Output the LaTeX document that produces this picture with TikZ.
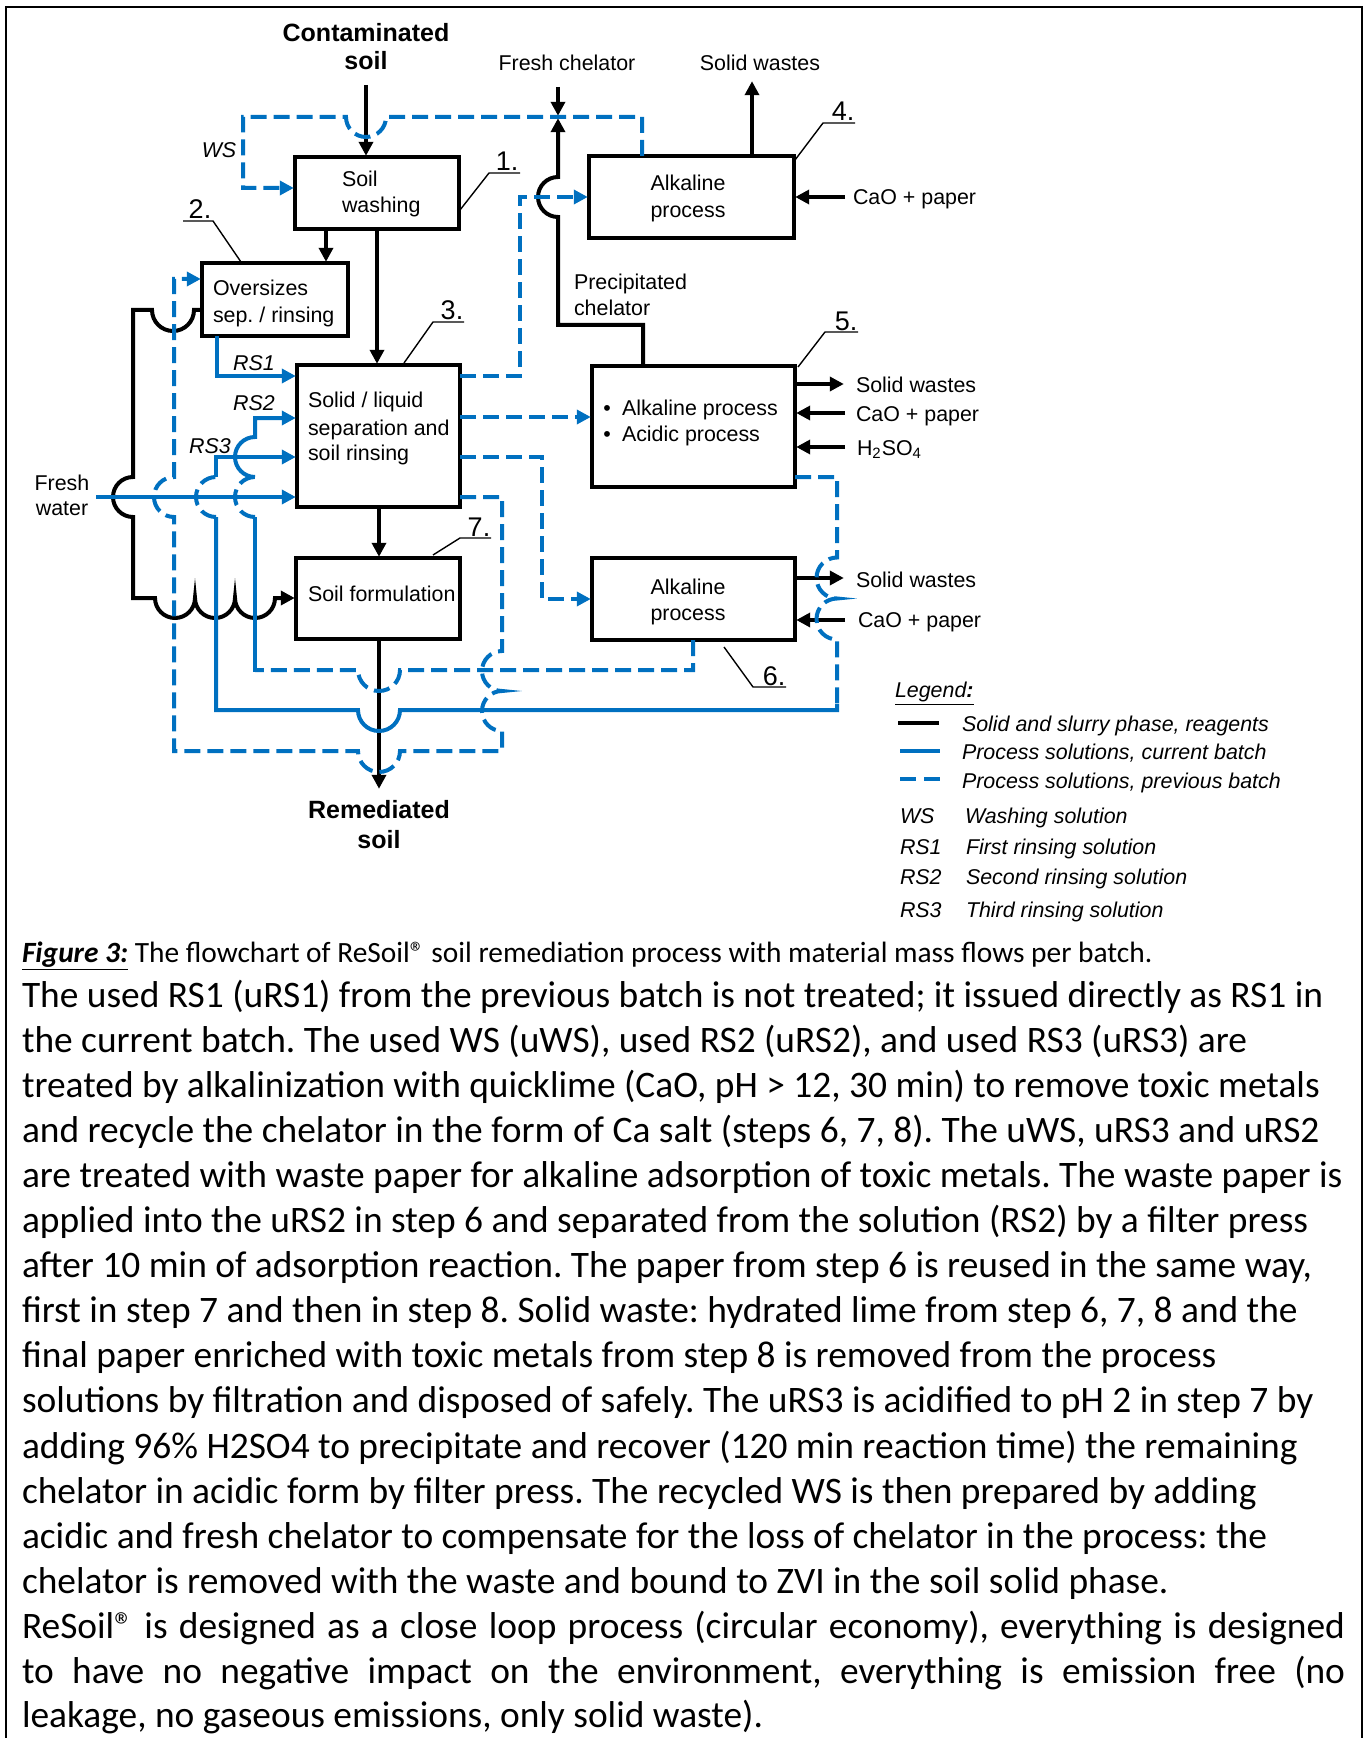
\documentclass[tikz,border=0pt]{standalone}
\usepackage{fontspec}
\setmainfont{Liberation Sans}
\newfontfamily\bodyfont{Carlito}
\usetikzlibrary{arrows.meta}
\definecolor{flowblue}{HTML}{0070C0}
\begin{document}
\frenchspacing
\begin{tikzpicture}[x=0.5pt, y=-0.5pt,
  every node/.style={inner sep=0pt, outer sep=0pt},
  font=\fontsize{10.7}{12.8}\selectfont,
  stepbox/.style={draw=black, line width=2.3pt, rectangle},
  blk/.style={draw=black, line width=2pt},
  cur/.style={draw=flowblue, line width=2pt},
  prev/.style={draw=flowblue, line width=2pt, dash pattern=on 8pt off 3.5pt},
  arr/.style={-{Triangle[length=7pt,width=7pt]}, shorten >=0.6pt},
  leader/.style={draw=black, line width=0.7pt},
  txt/.style={anchor=base west},
  ctxt/.style={anchor=base},
  bigbold/.style={anchor=base, font=\bfseries\fontsize{12.5}{15}\selectfont},
  stepno/.style={anchor=base, font=\fontsize{13.5}{16}\selectfont},
  legtxt/.style={anchor=base west, font=\itshape\fontsize{10.7}{12.8}\selectfont},
  body/.style={anchor=base west, font=\bodyfont\fontsize{18.7}{22.5}\selectfont},
]
\useasboundingbox (0,0) rectangle (1367,1738);

% page frame (open at the bottom)
\draw[line width=1.2pt] (6,1760) -- (6,7) -- (1362,7) -- (1362,1760);

% ---------------- process steps ----------------
\node[stepbox, minimum width=82pt,   minimum height=36pt]   (b1) at (377,193)   {};
\node[stepbox, minimum width=73pt,   minimum height=36.5pt] (b2) at (275,299.5) {};
\node[stepbox, minimum width=81.5pt, minimum height=71pt]   (b3) at (378.5,436) {};
\node[stepbox, minimum width=102.5pt,minimum height=41pt]   (b4) at (691.5,197) {};
\node[stepbox, minimum width=101.5pt,minimum height=60.5pt] (b5) at (693.5,426.5) {};
\node[stepbox, minimum width=101.5pt,minimum height=41pt]   (b6) at (693.5,599) {};
\node[stepbox, minimum width=82pt,   minimum height=40.5pt] (b7) at (378,598.5) {};

% texts inside the boxes
\node[txt] (t1a) at (342,187) {Soil};
\node[txt] (t1b) at (342,213) {washing};
\node[txt] (t2a) at (213,296) {Oversizes};
\node[txt] (t2b) at (213,322) {sep. / rinsing};
\node[txt] (t3a) at (308,408) {Solid / liquid};
\node[txt] (t3b) at (308,435) {separation and};
\node[txt] (t3c) at (308,460) {soil rinsing};
\node[ctxt] (t4a) at (688,191) {Alkaline};
\node[ctxt] (t4b) at (688,218) {process};
\node[ctxt] (t5d1) at (607,415) {•};
\node[txt]  (t5a) at (622,415) {Alkaline process};
\node[ctxt] (t5d2) at (607,441) {•};
\node[txt]  (t5b) at (622,441) {Acidic process};
\node[ctxt] (t6a) at (688,594) {Alkaline};
\node[ctxt] (t6b) at (688,620) {process};
\node[txt] (t7a) at (308,601) {Soil formulation};

% step numbers with underline and leader
\node[stepno] (n1) at (507,171) {1.};
\coordinate (n1l) at (489,173);
\draw[leader] (520,173) -- (n1l) -- (460,210);
\node[stepno] (n2) at (200,219) {2.};
\coordinate (n2l) at (213,221);
\draw[leader] (183,221) -- (n2l) -- (241,262);
\node[stepno] (n3) at (452,320) {3.};
\coordinate (n3l) at (433,322);
\draw[leader] (464,322) -- (n3l) -- (404,363);
\node[stepno] (n4) at (843,121) {4.};
\coordinate (n4l) at (823,123);
\draw[leader] (855,123) -- (n4l) -- (795,160);
\node[stepno] (n5) at (846,330) {5.};
\coordinate (n5l) at (825,332);
\draw[leader] (858,332) -- (n5l) -- (798,367);
\node[stepno] (n6) at (774,685) {6.};
\coordinate (n6l) at (753,687);
\draw[leader] (786,687) -- (n6l) -- (724,647);
\node[stepno] (n7) at (479,536) {7.};
\coordinate (n7l) at (460,538);
\draw[leader] (491,538) -- (n7l) -- (433,555);

% ---------------- outer labels ----------------
\node[bigbold] (contam)  at (366,42) {Contaminated};
\node[bigbold] (contamB) at (366,70) {soil};
\node[bigbold] (remed)   at (379,818) {Remediated};
\node[bigbold] (remedB)  at (379,848) {soil};
\node[ctxt] (fchel) at (567,71) {Fresh chelator};
\node[ctxt] (sw4t) at (760,71) {Solid wastes};
\node[txt] (cao4t) at (853,205) {CaO + paper};
\node[txt] (precA) at (574,290) {Precipitated};
\node[txt] (precB) at (574,316) {chelator};
\node[txt] (sw5t) at (856,392) {Solid wastes};
\node[txt] (cao5t) at (856,421) {CaO + paper};
\node[txt] (h2t) at (857,455) {H\textsubscript{2}SO\textsubscript{4}};
\node[txt] (sw6t) at (856,587) {Solid wastes};
\node[txt] (cao6t) at (858,627) {CaO + paper};
\node[ctxt] (fwA) at (62,490) {Fresh};
\node[ctxt] (fwB) at (62,515) {water};
\node[ctxt, font=\itshape\fontsize{10.7}{12.8}\selectfont] (lws) at (219,158) {WS};
\node[ctxt, font=\itshape\fontsize{10.7}{12.8}\selectfont] (lrs1) at (254,371) {RS1};
\node[ctxt, font=\itshape\fontsize{10.7}{12.8}\selectfont] (lrs2) at (254,410) {RS2};
\node[ctxt, font=\itshape\fontsize{10.7}{12.8}\selectfont] (lrs3) at (210,453) {RS3};

% free ends of the reagent and product arrows
\coordinate (csIn) at (366,85);
\coordinate (fcIn) at (558,87);
\coordinate (mix)  at (558,117);
\coordinate (sw4)  at (752,80);
\coordinate (cao4) at (845,197);
\coordinate (sw5)  at (845,384);
\coordinate (cao5) at (845,413);
\coordinate (h2so) at (845,447);
\coordinate (sw6)  at (845,578);
\coordinate (cao6) at (845,620);
\coordinate (fw)   at (96,497);
\coordinate (rem)  at (379,790);

% ---------------- solid and slurry phase, reagents ----------------
\draw[blk,arr] (csIn) -- (csIn |- b1.north);
\draw[blk,arr] (326,0 |- b1.south) -- (326,0 |- b2.north);
\draw[blk,arr] (377,0 |- b1.south) -- (377,0 |- b3.north);
\draw[blk,arr] (379,0 |- b3.south) -- (379,0 |- b7.north);
\draw[blk,arr] (379,0 |- b7.south) -- (rem);
\draw[blk,arr] (fcIn) -- (mix);
\draw[blk,arr] (643,0 |- b5.north) -- (643,325) -- (558,325) -- (558,217)
  arc[start angle=270, end angle=90, radius=10pt] -- (mix);
\draw[blk,arr] (752,0 |- b4.north) -- (sw4);
\draw[blk,arr] (cao4) -- (b4.east |- cao4);
\draw[blk,arr] (b5.east |- sw5) -- (sw5);
\draw[blk,arr] (cao5) -- (b5.east |- cao5);
\draw[blk,arr] (h2so) -- (b5.east |- h2so);
\draw[blk,arr] (b6.east |- sw6) -- (sw6);
\draw[blk,arr] (cao6) -- (b6.east |- cao6);
% oversizes to soil formulation
\draw[blk,arr] (b2.west |- 0,310) -- (194,310)
  arc[start angle=0, end angle=-180, radius=10.5pt] -- (133,310) -- (133,477)
  arc[start angle=90, end angle=270, radius=10pt] -- (133,598) -- (155,598)
  arc[start angle=180, end angle=360, radius=10pt]
  arc[start angle=180, end angle=360, radius=10pt]
  arc[start angle=180, end angle=360, radius=10pt] -- (b7.west |- 0,598);

% ---------------- process solutions, current batch ----------------
\draw[cur,arr] (fw) -- (b3.west |- fw);
\draw[cur,arr] (217,0 |- b2.south) -- (217,376) -- (b3.west |- 0,376);
% RS2
\draw[cur] (259,670) -- (255,670) -- (255,517);
\draw[prev] (255,517) arc[start angle=270, end angle=90, radius=10pt];
\draw[cur,arr] (255,477) arc[start angle=270, end angle=90, radius=10pt]
  -- (255,418) -- (b3.west |- 0,418);
% RS3
\draw[cur] (837,704) -- (837,710) -- (400,710)
  arc[start angle=0, end angle=-180, radius=10.5pt] -- (216,710) -- (216,517);
\draw[prev] (216,517) arc[start angle=270, end angle=90, radius=10pt];
\draw[cur,arr] (216,477) -- (216,457) -- (b3.west |- 0,457);

% ---------------- process solutions, previous batch ----------------
\draw[prev,arr] (642,0 |- b4.north) -- (642,117) -- (386,117)
  arc[start angle=0, end angle=-180, radius=10pt] -- (243,117) -- (243,188)
  -- (b1.west |- 0,188);
\draw[prev,arr] (b3.east |- 0,376) -- (520,376) -- (520,197) -- (b4.west |- 0,197);
\draw[prev,arr] (b3.east |- 0,417) -- (b5.west |- 0,417);
\draw[prev,arr] (b3.east |- 0,457) -- (542,457) -- (542,599) -- (b6.west |- 0,599);
\draw[prev,arr] (b3.east |- 0,497) -- (502,497) -- (502,651)
  arc[start angle=90, end angle=270, radius=10pt]
  arc[start angle=90, end angle=270, radius=10pt] -- (502,751) -- (400,751)
  arc[start angle=0, end angle=-180, radius=10.5pt] -- (174,751) -- (174,517)
  arc[start angle=270, end angle=90, radius=10pt] -- (174,279) -- (b2.west |- 0,279);
\draw[prev] (693,0 |- b6.south) -- (693,670) -- (400,670)
  arc[start angle=0, end angle=-180, radius=10.5pt] -- (255,670);
\draw[prev] (b5.east |- 0,477) -- (837,477) -- (837,557.5)
  arc[start angle=90, end angle=270, radius=10.25pt]
  arc[start angle=90, end angle=270, radius=10.25pt] -- (837,710);

% ---------------- legend ----------------
\node[legtxt] (leg) at (895,697) {\underline{Legend\textbf{:}}};
\draw[blk] (898,723) -- (939,723);
\draw[cur] (900,751) -- (940,751);
\draw[prev, dash pattern=on 8pt off 4pt] (900,779) -- (940,779);
\node[legtxt] (lg1) at (962,731) {Solid and slurry phase, reagents};
\node[legtxt] (lg2) at (962,759) {Process solutions, current batch};
\node[legtxt] (lg3) at (962,788) {Process solutions, previous batch};
\node[legtxt] (lga) at (900,823) {WS};
\node[legtxt] (lgaa) at (965,823) {Washing solution};
\node[legtxt] (lgb) at (900,854) {RS1};
\node[legtxt] (lgbb) at (966,854) {First rinsing solution};
\node[legtxt] (lgc) at (900,884) {RS2};
\node[legtxt] (lgcc) at (966,884) {Second rinsing solution};
\node[legtxt] (lgd) at (900,917) {RS3};
\node[legtxt] (lgdd) at (966,917) {Third rinsing solution};

% ---------------- caption and description ----------------
\node[anchor=base west, font=\bodyfont\fontsize{14.7}{17}\selectfont] (cap) at (22,962)
  {\textbf{\textit{\underline{Figure 3:}}} The flowchart of ReSoil® soil remediation process with material mass flows per batch.};
\node[body] (p1)  at (22,1007) {The used RS1 (uRS1) from the previous batch is not treated; it issued directly as RS1 in};
\node[body] (p2)  at (22,1052.1) {the current batch. The used WS (uWS), used RS2 (uRS2), and used RS3 (uRS3) are};
\node[body] (p3)  at (22,1097.2) {treated by alkalinization with quicklime (CaO, pH > 12, 30 min) to remove toxic metals};
\node[body] (p4)  at (22,1142.3) {and recycle the chelator in the form of Ca salt (steps 6, 7, 8). The uWS, uRS3 and uRS2};
\node[body] (p5)  at (22,1187.4) {are treated with waste paper for alkaline adsorption of toxic metals. The waste paper is};
\node[body] (p6)  at (22,1232.5) {applied into the uRS2 in step 6 and separated from the solution (RS2) by a filter press};
\node[body] (p7)  at (22,1277.6) {after 10 min of adsorption reaction. The paper from step 6 is reused in the same way,};
\node[body] (p8)  at (22,1322.7) {first in step 7 and then in step 8. Solid waste: hydrated lime from step 6, 7, 8 and the};
\node[body] (p9)  at (22,1367.8) {final paper enriched with toxic metals from step 8 is removed from the process};
\node[body] (p10) at (22,1412.9) {solutions by filtration and disposed of safely. The uRS3 is acidified to pH 2 in step 7 by};
\node[body] (p11) at (22,1458) {adding 96\% H2SO4 to precipitate and recover (120 min reaction time) the remaining};
\node[body] (p12) at (22,1503.1) {chelator in acidic form by filter press. The recycled WS is then prepared by adding};
\node[body] (p13) at (22,1548.2) {acidic and fresh chelator to compensate for the loss of chelator in the process: the};
\node[body] (p14) at (22,1593.3) {chelator is removed with the waste and bound to ZVI in the soil solid phase.};
\node[body] (p15) at (22,1638.4) {\makebox[661.5pt][s]{ReSoil® is designed as a close loop process (circular economy), everything is designed}};
\node[body] (p16) at (22,1683.5) {\makebox[661.5pt][s]{to have no negative impact on the environment, everything is emission free (no}};
\node[body] (p17) at (22,1727) {leakage, no gaseous emissions, only solid waste).};
\end{tikzpicture}
\end{document}
